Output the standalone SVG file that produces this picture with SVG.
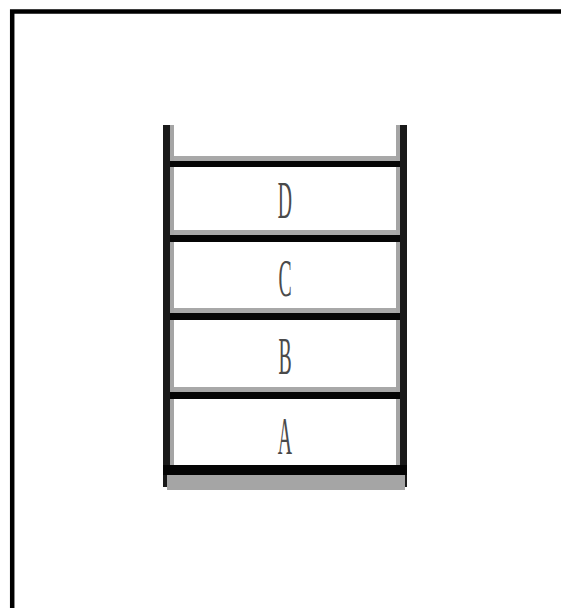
<svg xmlns="http://www.w3.org/2000/svg" width="561" height="608" viewBox="0 0 561 608">
<style>
.frame{fill:none;stroke:#000;stroke-width:4.5}
.wd{fill:#1a1a1a}
.wg{fill:#a5a5a5}
.sg{fill:#a8a8a8}
.sb{fill:#050505}
.lbl{font-family:"Liberation Serif","DejaVu Serif",serif;font-size:52px;fill:#4a4a4a;text-anchor:middle}
</style>
<rect width="561" height="608" fill="#fff"/>
<path class="frame" d="M12.2,608 V11.5 H561"/>
<g id="stack">
<rect class="wd" x="163" y="125" width="7" height="362"/>
<rect class="wg" x="170" y="125" width="4" height="362"/>
<rect class="wg" x="396" y="125" width="4" height="362"/>
<rect class="wd" x="400" y="125" width="7" height="362"/>
<rect class="wg" x="167" y="474" width="238" height="16"/>
<rect class="sb" x="163" y="465" width="244" height="10"/>
</g>
<g id="shelves">
<rect class="sg" x="174" y="156" width="222" height="5"/>
<rect class="sb" x="170" y="161" width="230" height="6"/>
<rect class="sg" x="174" y="230" width="222" height="5"/>
<rect class="sb" x="170" y="235" width="230" height="7"/>
<rect class="sg" x="174" y="308" width="222" height="5"/>
<rect class="sb" x="170" y="313" width="230" height="7"/>
<rect class="sg" x="174" y="387" width="222" height="5"/>
<rect class="sb" x="170" y="392" width="230" height="7"/>
</g>
<g id="D"><text class="lbl" transform="translate(285,218) scale(0.38,1)">D</text></g>
<g id="C"><text class="lbl" transform="translate(285,296) scale(0.38,1)">C</text></g>
<g id="B"><text class="lbl" transform="translate(285,374) scale(0.38,1)">B</text></g>
<g id="A"><text class="lbl" transform="translate(285,454) scale(0.38,1)">A</text></g>
</svg>
